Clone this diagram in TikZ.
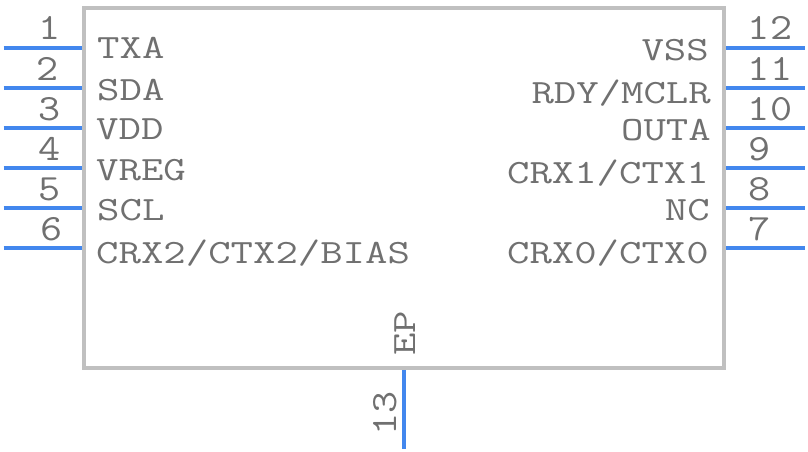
\documentclass[tikz,border=0pt]{standalone}
\newcommand{\pintext}[1]{\scalebox{1.28}[1]{\fontsize{34}{34}\selectfont\ttfamily #1}}
\newcommand{\pinnum}[1]{\scalebox{1.16}[1]{\fontsize{37}{37}\selectfont\ttfamily #1}}
\definecolor{pinblue}{HTML}{4287EE}
\definecolor{boxgray}{HTML}{C0C0C0}
\definecolor{txtgray}{HTML}{707070}
\tikzset{
  body/.style={draw=boxgray,line width=4pt,outer sep=0pt,minimum width=639.5pt,minimum height=359.5pt,inner sep=0pt,anchor=north west},
  pinline/.style={draw=pinblue,line width=4pt},
  lbl/.style={text=txtgray,inner sep=0pt,font=\ttfamily},
  lbll/.style={lbl,anchor=base west},
  lblr/.style={lbl,anchor=base east},
  lblc/.style={lbl,anchor=base},
  lblv/.style={lbl,anchor=base,rotate=90},
}
\begin{document}
\begin{tikzpicture}[x=1pt,y=-1pt]
\useasboundingbox (0,0) rectangle (808,452);
\node[body] (box) at (84,8.5) {};
\foreach \n/\y in {1/48,2/88,3/128,4/168,5/208,6/248}{
  \coordinate (a\n) at (3.5,\y);
  \coordinate (b\n) at (82,\y);
  \draw[pinline] (a\n) -- (b\n);
}
\foreach \n/\y in {12/48,11/88,10/128,9/168,8/208,7/248}{
  \coordinate (a\n) at (726,\y);
  \coordinate (b\n) at (805,\y);
  \draw[pinline] (a\n) -- (b\n);
}
\coordinate (a13) at (404,370);
\coordinate (b13) at (404,449);
\draw[pinline] (a13) -- (b13);
% pin numbers
\node[lblc] (n1) at (50,40) {\pinnum{1}};
\node[lblc] (n2) at (48,80) {\pinnum{2}};
\node[lblc] (n3) at (50,120) {\pinnum{3}};
\node[lblc] (n4) at (50,160) {\pinnum{4}};
\node[lblc] (n5) at (50,200) {\pinnum{5}};
\node[lblc] (n6) at (52,240) {\pinnum{6}};
\node[lblc] (n12) at (770,40) {\pinnum{12}};
\node[lblc] (n11) at (770,80) {\pinnum{11}};
\node[lblc] (n10) at (770,120) {\pinnum{10}};
\node[lblc] (n9) at (760,160) {\pinnum{9}};
\node[lblc] (n8) at (760,200) {\pinnum{8}};
\node[lblc] (n7) at (760,240) {\pinnum{7}};
\node[lblv] (n13) at (396,413) {\pinnum{13}};
\node[lblv] (ep) at (415,333) {\pintext{EP}};
% left labels
\node[lbll] (txa) at (97,59) {\pintext{TXA}};
\node[lbll] (sda) at (97,100) {\pintext{SDA}};
\node[lbll] (vdd) at (96,139) {\pintext{VDD}};
\node[lbll] (vreg) at (96,180) {\pintext{VREG}};
\node[lbll] (scl) at (97,220) {\pintext{SCL}};
\node[lbll] (crx2) at (96,263) {\pintext{CRX2/CTX2/BIAS}};
% right labels
\node[lblr] (vss) at (709,60) {\pintext{VSS}};
\node[lblr] (rdy) at (711,103) {\pintext{RDY/MCLR}};
\node[lblr] (outa) at (711,140) {\pintext{OUTA}};
\node[lblr] (crx1) at (709,183) {\pintext{CRX1/CTX1}};
\node[lblr] (nc) at (710,220) {\pintext{NC}};
\node[lblr] (crx0) at (709,263) {\pintext{CRX0/CTX0}};
\end{tikzpicture}
\end{document}
